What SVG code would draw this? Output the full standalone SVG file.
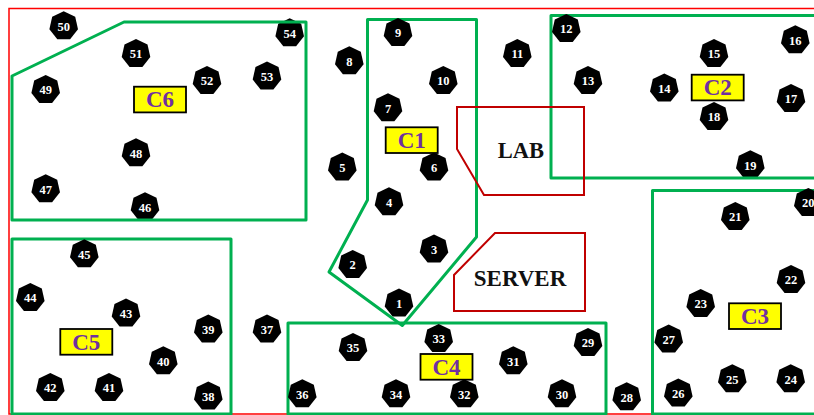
<svg xmlns="http://www.w3.org/2000/svg" xmlns:xlink="http://www.w3.org/1999/xlink" width="814" height="415" viewBox="0 0 814 415">
<style>
.bg{fill:#fff}
.border{fill:none;stroke:#f00;stroke-width:1.5}
.cluster{fill:none;stroke:#00b050;stroke-width:3;stroke-linejoin:round}
.room{fill:none;stroke:#c00000;stroke-width:2}
.hep{fill:#000}
.n{font:bold 12.5px "Liberation Serif",serif;fill:#fff;text-anchor:middle}
.tag{fill:#ff0;stroke:#000;stroke-width:1.8}
.t{font:bold 23px "Liberation Serif",serif;fill:#7030a0;text-anchor:middle}
.r{font:bold 22.5px "Liberation Serif",serif;fill:#111;text-anchor:middle}
</style>
<defs>
<polygon id="h" class="hep" points="0,-14.7 11.5,-9.2 14.3,3.3 6.4,13.2 -6.4,13.2 -14.3,3.3 -11.5,-9.2"/>
</defs>
<rect class="bg" width="814" height="415"/>
<path class="border" d="M816 8.500H9V414H816"/>
<g id="covered-nodes">
<g id="n54"><use href="#h" x="289.700" y="33"/><text class="n" x="289.700" y="37.500">54</text></g>
<g id="n46"><use href="#h" x="145" y="207"/><text class="n" x="145" y="211.500">46</text></g>
<g id="n19"><use href="#h" x="750.300" y="165"/><text class="n" x="750.300" y="169.500">19</text></g>
<g id="n1"><use href="#h" x="399" y="303.300"/><text class="n" x="399" y="307.800">1</text></g>
</g>
<g id="connectors">
<polygon class="cluster" points="12,76 124,22 306,22 306,220 12,220"/>
<polygon class="cluster" points="367.500,19.500 476.500,19.500 476.500,237 402.300,325.500 329,272 367.500,200"/>
<path class="cluster" d="M816 15.500H551V178H816"/>
<path class="cluster" d="M816 190.500H652.500V414H816"/>
<rect class="cluster" x="288" y="323" width="318" height="91"/>
<rect class="cluster" x="12" y="239" width="219" height="175"/>
<polygon class="room" points="457,107 584,107 584,195 484,195 457,149"/>
<polygon class="room" points="495,233 585,233 585,311 454,311 454,275"/>
</g>
<g id="nodes">
<g id="n2"><use href="#h" x="352.700" y="264.700"/><text class="n" x="352.700" y="269.200">2</text></g>
<g id="n3"><use href="#h" x="434" y="249.300"/><text class="n" x="434" y="253.800">3</text></g>
<g id="n4"><use href="#h" x="389" y="202"/><text class="n" x="389" y="206.500">4</text></g>
<g id="n5"><use href="#h" x="342.300" y="167.300"/><text class="n" x="342.300" y="171.800">5</text></g>
<g id="n6"><use href="#h" x="434" y="167.300"/><text class="n" x="434" y="171.800">6</text></g>
<g id="n7"><use href="#h" x="388" y="108"/><text class="n" x="388" y="112.500">7</text></g>
<g id="n8"><use href="#h" x="349.300" y="61"/><text class="n" x="349.300" y="65.500">8</text></g>
<g id="n9"><use href="#h" x="398" y="32.700"/><text class="n" x="398" y="37.200">9</text></g>
<g id="n10"><use href="#h" x="443.300" y="80.700"/><text class="n" x="443.300" y="85.200">10</text></g>
<g id="n11"><use href="#h" x="517.300" y="53.700"/><text class="n" x="517.300" y="58.200">11</text></g>
<g id="n12"><use href="#h" x="566.300" y="28.700"/><text class="n" x="566.300" y="33.200">12</text></g>
<g id="n13"><use href="#h" x="588" y="80.700"/><text class="n" x="588" y="85.200">13</text></g>
<g id="n14"><use href="#h" x="664.300" y="88.300"/><text class="n" x="664.300" y="92.800">14</text></g>
<g id="n15"><use href="#h" x="714" y="53.700"/><text class="n" x="714" y="58.200">15</text></g>
<g id="n16"><use href="#h" x="795.300" y="40"/><text class="n" x="795.300" y="44.500">16</text></g>
<g id="n17"><use href="#h" x="791" y="98.700"/><text class="n" x="791" y="103.200">17</text></g>
<g id="n18"><use href="#h" x="714" y="116.700"/><text class="n" x="714" y="121.200">18</text></g>
<g id="n20"><use href="#h" x="808.300" y="202.700"/><text class="n" x="808.300" y="207.200">20</text></g>
<g id="n21"><use href="#h" x="735.300" y="216.700"/><text class="n" x="735.300" y="221.200">21</text></g>
<g id="n22"><use href="#h" x="791" y="279.700"/><text class="n" x="791" y="284.200">22</text></g>
<g id="n23"><use href="#h" x="700.700" y="303.700"/><text class="n" x="700.700" y="308.200">23</text></g>
<g id="n24"><use href="#h" x="790.700" y="379"/><text class="n" x="790.700" y="383.500">24</text></g>
<g id="n25"><use href="#h" x="732.300" y="379"/><text class="n" x="732.300" y="383.500">25</text></g>
<g id="n26"><use href="#h" x="678.300" y="393.300"/><text class="n" x="678.300" y="397.800">26</text></g>
<g id="n27"><use href="#h" x="668.700" y="339.300"/><text class="n" x="668.700" y="343.800">27</text></g>
<g id="n28"><use href="#h" x="626.700" y="397"/><text class="n" x="626.700" y="401.500">28</text></g>
<g id="n29"><use href="#h" x="588" y="342.700"/><text class="n" x="588" y="347.200">29</text></g>
<g id="n30"><use href="#h" x="562" y="394"/><text class="n" x="562" y="398.500">30</text></g>
<g id="n31"><use href="#h" x="513.300" y="361"/><text class="n" x="513.300" y="365.500">31</text></g>
<g id="n32"><use href="#h" x="464.300" y="394"/><text class="n" x="464.300" y="398.500">32</text></g>
<g id="n33"><use href="#h" x="438.700" y="338.700"/><text class="n" x="438.700" y="343.200">33</text></g>
<g id="n34"><use href="#h" x="396" y="394"/><text class="n" x="396" y="398.500">34</text></g>
<g id="n35"><use href="#h" x="353" y="347.700"/><text class="n" x="353" y="352.200">35</text></g>
<g id="n36"><use href="#h" x="302.300" y="394"/><text class="n" x="302.300" y="398.500">36</text></g>
<g id="n37"><use href="#h" x="267" y="329.300"/><text class="n" x="267" y="333.800">37</text></g>
<g id="n38"><use href="#h" x="208.300" y="396.300"/><text class="n" x="208.300" y="400.800">38</text></g>
<g id="n39"><use href="#h" x="208.300" y="329.300"/><text class="n" x="208.300" y="333.800">39</text></g>
<g id="n40"><use href="#h" x="163.300" y="361"/><text class="n" x="163.300" y="365.500">40</text></g>
<g id="n41"><use href="#h" x="109" y="387.700"/><text class="n" x="109" y="392.200">41</text></g>
<g id="n42"><use href="#h" x="50.300" y="387.700"/><text class="n" x="50.300" y="392.200">42</text></g>
<g id="n43"><use href="#h" x="126" y="313.300"/><text class="n" x="126" y="317.800">43</text></g>
<g id="n44"><use href="#h" x="30.300" y="297.700"/><text class="n" x="30.300" y="302.200">44</text></g>
<g id="n45"><use href="#h" x="84.300" y="254"/><text class="n" x="84.300" y="258.500">45</text></g>
<g id="n47"><use href="#h" x="45.700" y="189"/><text class="n" x="45.700" y="193.500">47</text></g>
<g id="n48"><use href="#h" x="136" y="153"/><text class="n" x="136" y="157.500">48</text></g>
<g id="n49"><use href="#h" x="45.700" y="89.700"/><text class="n" x="45.700" y="94.200">49</text></g>
<g id="n50"><use href="#h" x="63.700" y="26"/><text class="n" x="63.700" y="30.500">50</text></g>
<g id="n51"><use href="#h" x="136" y="53.700"/><text class="n" x="136" y="58.200">51</text></g>
<g id="n52"><use href="#h" x="207" y="80.700"/><text class="n" x="207" y="85.200">52</text></g>
<g id="n53"><use href="#h" x="267" y="76.300"/><text class="n" x="267" y="80.800">53</text></g>
</g>
<g id="C1"><rect class="tag" x="385.700" y="127.300" width="52" height="25.700"/><text class="t" x="411.700" y="148">C1</text></g>
<g id="C2"><rect class="tag" x="691.700" y="74.700" width="52" height="25.700"/><text class="t" x="717.700" y="95.400">C2</text></g>
<g id="C3"><rect class="tag" x="729" y="303.300" width="52" height="25.700"/><text class="t" x="755" y="324">C3</text></g>
<g id="C4"><rect class="tag" x="420.500" y="354" width="52" height="25.700"/><text class="t" x="446.500" y="375">C4</text></g>
<g id="C5"><rect class="tag" x="60.300" y="329" width="52" height="25.700"/><text class="t" x="86.300" y="350">C5</text></g>
<g id="C6"><rect class="tag" x="134" y="86.700" width="52" height="25.700"/><text class="t" x="160" y="107.400">C6</text></g>
<g id="LAB"><text class="r" x="521" y="157.500">LAB</text></g>
<g id="SERVER"><text class="r" x="520" y="285.500" style="font-size:23px">SERVER</text></g>
</svg>
